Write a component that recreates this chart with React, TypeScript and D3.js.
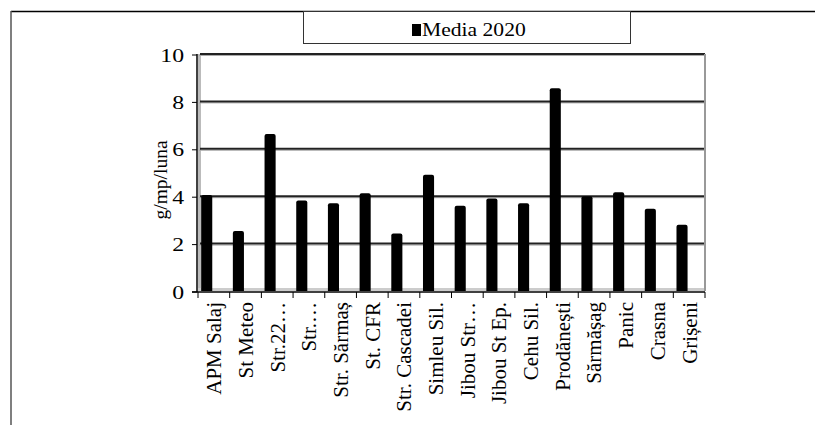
import React from "react";
import * as d3 from "d3";

const categories = [
  "APM Salaj", "St Meteo", "Str.22…", "Str.…", "Str. Sărmaș", "St. CFR",
  "Str. Cascadei", "Simleu Sil.", "Jibou Str…", "Jibou St Ep.", "Cehu Sil.",
  "Prodănești", "Sărmășag", "Panic", "Crasna", "Grișeni",
];
const values = [4.05, 2.53, 6.62, 3.82, 3.7, 4.12, 2.43, 4.9, 3.6, 3.9, 3.7, 8.55, 4.0, 4.17, 3.47, 2.8];
const yTicks = [0, 2, 4, 6, 8, 10];
const seriesName = "Media 2020";
const yTitle = "g/mp/luna";

const W = 815, H = 425;
const FONT = "Liberation Serif, DejaVu Serif, serif";
const ts: React.CSSProperties = { fontFamily: FONT };

export default function App() {
  const x = d3.scaleBand<string>().domain(categories).range([198, 705]).padding(0);
  const y = d3.scaleLinear().domain([0, 10]).range([291, 54]);
  const bw = x.bandwidth();
  return (
    <svg width={W} height={H} style={{ position: "absolute", left: 0, top: 0, fontFamily: FONT }}>
      <rect x={0} y={0} width={W} height={H} fill="#fff" />
      {/* outer border */}
      <line x1={11} x2={W} y1={11.5} y2={11.5} stroke="#000" strokeWidth={1.5} />
      <line x1={11} x2={11} y1={11} y2={H} stroke="#555" strokeWidth={1.5} />
      {/* legend */}
      <rect x={303.5} y={11.5} width={327} height={32} fill="#fff" stroke="#333" strokeWidth={1} />
      <rect x={412} y={24} width={9} height={12} fill="#000" />
      <text transform="translate(422,36) scale(1.2,1)" fontSize={18} fill="#000" style={ts}>{seriesName}</text>
      {/* walls */}
      <rect x={198} y={54} width={3} height={237} fill="#bbb" />
      <rect x={198} y={288} width={507} height={3} fill="#ccc" />
      {/* gridlines */}
      {yTicks.filter((t) => t > 0).map((t) => (
        <g key={t}>
          <line x1={199} x2={705} y1={y(t) + 1.5} y2={y(t) + 1.5} stroke="#aaa" strokeWidth={1} />
          <line x1={200} x2={705} y1={y(t)} y2={y(t)} stroke="#222" strokeWidth={2} />
        </g>
      ))}
      {/* right wall edge */}
      <line x1={705} x2={705} y1={54} y2={291} stroke="#999" strokeWidth={2} />
      {/* bars */}
      {values.map((v, i) => {
        const bx = (x(categories[i]) as number) + bw * 0.1;
        const top = y(v);
        return (
          <path
            key={i}
            d={`M${bx},${y(0)} V${top + 2} Q${bx},${top} ${bx + 2},${top} H${bx + bw * 0.35 - 2} Q${bx + bw * 0.35},${top} ${bx + bw * 0.35},${top + 2} V${y(0)} Z`}
            fill="#000"
          />
        );
      })}
      {/* axes */}
      <line x1={197} x2={197} y1={54} y2={292} stroke="#000" strokeWidth={1.5} />
      <line x1={192} x2={705} y1={292} y2={292} stroke="#000" strokeWidth={1.5} />
      {yTicks.map((t) => (
        <g key={t}>
          <line x1={192} x2={197} y1={y(t) + 1} y2={y(t) + 1} stroke="#000" strokeWidth={1} />
          <text transform={`translate(184,${y(t) + 1}) scale(1.25,1)`} dy="0.35em" textAnchor="end" fontSize={19} fill="#000" style={ts}>{t}</text>
        </g>
      ))}
      {categories.map((c, i) => (
        <line key={"t" + i} x1={(x(c) as number)} x2={(x(c) as number)} y1={292} y2={298} stroke="#000" strokeWidth={1} />
      ))}
      <line x1={705} x2={705} y1={292} y2={298} stroke="#000" strokeWidth={1} />
      {categories.map((c) => {
        const cx = (x(c) as number) + bw / 2;
        return (
          <text key={c} transform={`translate(${cx},302) rotate(-90)`} dy="0.35em" textAnchor="end" fontSize={21} fill="#000" style={ts}>{c}</text>
        );
      })}
      <text transform={`translate(160,180) rotate(-90)`} dy="0.35em" textAnchor="middle" fontSize={19.5} fill="#000" style={ts}>{yTitle}</text>
    </svg>
  );
}
